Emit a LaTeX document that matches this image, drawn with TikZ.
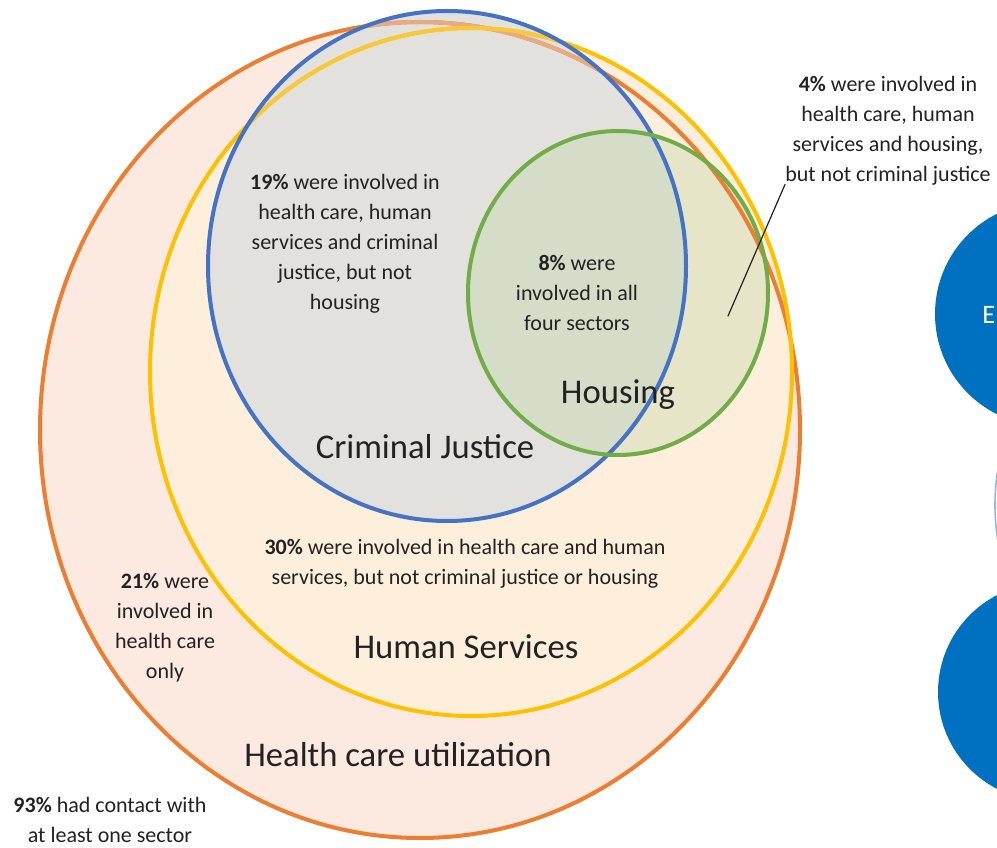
\documentclass[tikz,border=0pt]{standalone}
\usepackage{fontspec}
\setmainfont{Carlito}
\definecolor{hcline}{HTML}{ED7D31}
\definecolor{hcfill}{HTML}{FCE9E0}
\definecolor{hsline}{HTML}{FFC000}
\definecolor{hsfill}{HTML}{FEEEDC}
\definecolor{cjline}{HTML}{4472C4}
\definecolor{cjfill}{HTML}{E2E1DE}
\definecolor{holine}{HTML}{70AD47}
\definecolor{hofill}{HTML}{C1D7A8}
\definecolor{sideblue}{HTML}{0070C0}
\definecolor{sidering}{HTML}{9DB3DD}
\definecolor{txt}{HTML}{222222}
\tikzset{
  note/.style={align=center,text=txt,inner sep=1pt,font=\fontsize{16.5}{22.5}\selectfont},
  setname/.style={text=txt,inner sep=1pt,font=\fontsize{26}{30}\selectfont},
  ring/.style={line width=3pt},
}
\begin{document}
\begin{tikzpicture}[x=0.75pt,y=-0.75pt,line join=round,line cap=round]
  \useasboundingbox (0,0) rectangle (997,848);

  % Side circles (cut off at the right edge)
  \fill[sideblue] (1047,314) circle (112);
  \draw[sidering,line width=1.2pt] (1035,505) ellipse [x radius=40,y radius=95];
  \fill[sideblue] (1047,692) circle (109);
  \node[anchor=west,text=white,inner sep=0pt,font=\fontsize{20}{24}\selectfont] (sidetext) at (982,315) {E};

  % Fills
  \fill[hcfill] (420,430) ellipse [x radius=380,y radius=408];
  \fill[hsfill] (471,372) ellipse [x radius=321,y radius=344];
  \fill[cjfill] (447,266) ellipse [x radius=239,y radius=255];
  \fill[hofill,fill opacity=0.39] (618,293) ellipse [x radius=150,y radius=162];

  % Outlines
  \draw[ring,hcline] (420,430) ellipse [x radius=380,y radius=408];
  \draw[ring,hsline] (471,372) ellipse [x radius=321,y radius=344];
  % faded parts seen through the criminal justice circle
  \begin{scope}
    \clip (447,266) ellipse [x radius=239,y radius=255];
    \draw[ring,hcline!55!cjfill] (420,430) ellipse [x radius=380,y radius=408];
    \draw[ring,hsline!75!cjfill] (471,372) ellipse [x radius=321,y radius=344];
  \end{scope}
  \draw[ring,cjline] (447,266) ellipse [x radius=239,y radius=255];
  \draw[ring,holine] (618,293) ellipse [x radius=150,y radius=162];

  % Set names
  \node[setname] (cjname) at (425,447) {Criminal Justice};
  \node[setname] (honame) at (618,395) {Housing};
  \node[setname] (hsname) at (466,647) {Human Services};
  \node[setname] (hcname) at (398,755) {Health care utilization};

  % Shares
  \node[note] (cjshare) at (345,244) {\textbf{19\%} were involved in\\health care, human\\services and criminal\\justice, but not\\housing};
  \node[note] (allshare) at (577,293) {\textbf{8\%} were\\involved in all\\four sectors};
  \node[note] (hsshare) at (465,564) {\textbf{30\%} were involved in health care and human\\services, but not criminal justice or housing};
  \node[note] (hcshare) at (165,628) {\textbf{21\%} were\\involved in\\health care\\only};
  \node[note] (anyshare) at (110,820) {\textbf{93\%} had contact with\\at least one sector};
  \node[note] (hoshare) at (888,131) {\textbf{4\%} were involved in\\health care, human\\services and housing,\\but not criminal justice};

  % Leader into the housing-only area
  \coordinate (hospot) at (728,316);
  \draw[txt,line width=0.9pt] (hospot) -- ([xshift=1pt,yshift=2pt]hoshare.south west);
\end{tikzpicture}
\end{document}
